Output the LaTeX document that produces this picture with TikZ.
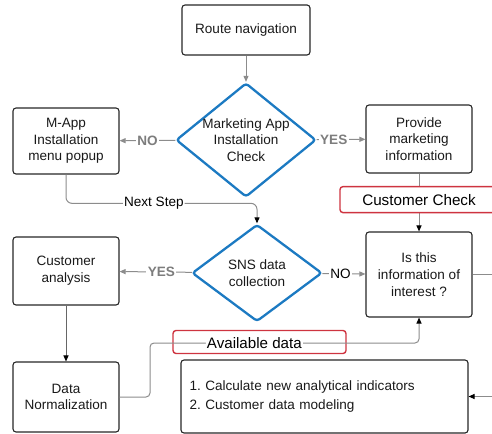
\documentclass[tikz,border=0pt]{standalone}
\usepackage{fontspec}
\setmainfont{Liberation Sans}
\usepackage{tikz}
\usetikzlibrary{arrows.meta,positioning,shapes.geometric}
\definecolor{diaBlue}{RGB}{28,122,194}
\definecolor{frameRed}{RGB}{206,52,64}
\definecolor{lineGray}{RGB}{140,140,140}
\definecolor{answerGray}{RGB}{125,125,125}
\tikzset {
	process/.style={rectangle, draw=black!85, line width=1.1bp, rounded corners=3bp, align=center,
					minimum width=106bp, text=black!90, font=\fontsize{13.6}{16.8}\selectfont\frenchspacing},
	decision/.style={diamond, draw=diaBlue, line width=2.3bp, rounded corners=3bp, align=center,
					inner sep=-10bp, text=black!90, font=\fontsize{13.6}{16.8}\selectfont},
	flow/.style={draw=lineGray, line width=1bp, -{Triangle[length=6bp,width=5bp]}},
	darkFlow/.style={flow, -{Triangle[length=6bp,width=5bp,color=black]}},
	answer/.style={fill=white, inner sep=1.5bp, text=answerGray, font=\fontsize{13.6}{15}\selectfont\bfseries},
	note/.style={fill=white, inner sep=1bp, font=\fontsize{13.6}{15}\selectfont},
	redFrame/.style={rectangle, draw=frameRed, line width=1.4bp, rounded corners=3bp}
}
\begin{document}
\begin{tikzpicture}[x=1bp, y=-1bp]
	\useasboundingbox (0,0) rectangle (492,434);
	% boxes and decisions
	\node [process, minimum width=128bp, minimum height=50bp] (route) at (246,30) {Route navigation};
	\node [decision, minimum width=140bp, minimum height=114bp] (appCheck) at (246,140) {Marketing App\\Installation\\Check};
	\node [process, minimum height=66bp] (popup) at (66,141) {M-App\\Installation\\menu popup};
	\node [process, minimum height=68bp] (provide) at (419,139) {Provide\\marketing\\information};
	\node [decision, minimum width=130bp, minimum height=97bp] (sns) at (257,273) {SNS data\\collection};
	\node [process, minimum height=68bp] (analysis) at (66,271) {Customer\\analysis};
	\node [process, minimum height=85bp] (interest) at (419,274.5) {Is this\\information of\\interest ?};
	\node [process, minimum height=70bp] (normal) at (66,397) {Data\\Normalization};
	\node [process, minimum width=287bp, minimum height=73bp, text width=270bp, align=left,
			font=\fontsize{13.6}{20}\selectfont\frenchspacing] (indicators) at (324.5,396.5)
			{1. Calculate new analytical indicators\\2. Customer data modeling};
	\node [redFrame, minimum width=173bp, minimum height=23bp] (dataFrame) at (259.5,342) {};
	\coordinate (dataTurn) at (150,343);
	\coordinate (rim) at (505,0);
	% connectors
	\draw [flow] (route) -- (appCheck);
	\draw [flow] (appCheck) -- node [answer] {NO} (popup);
	\draw [flow] (appCheck) -- node [answer, pos=0.35] {YES} (provide);
	\draw [darkFlow, rounded corners=6bp] (popup) |- node [note, pos=0.73] {Next Step}
			([yshift=20bp]sns.north) -- (sns.north);
	\draw [flow] (sns) -- node [answer, pos=0.42] {YES} (analysis);
	\draw [flow] (sns) -- node [note, pos=0.42] {NO} (interest);
	\draw [darkFlow] (provide) -- node [redFrame, fill=white, pos=0.45, minimum width=158bp, minimum height=26bp,
			font=\fontsize{15.3}{17}\selectfont] {Customer Check} (interest);
	\draw [darkFlow, draw=black!60] (analysis) -- (normal);
	\draw [darkFlow, rounded corners=4bp] (normal) -| (dataTurn) -| node [note, pos=0.194,
			font=\fontsize{15.2}{17}\selectfont] {Available data} (interest);
	\draw [darkFlow] (interest) -- (interest -| rim) |- (indicators);
\end{tikzpicture}
\end{document}
